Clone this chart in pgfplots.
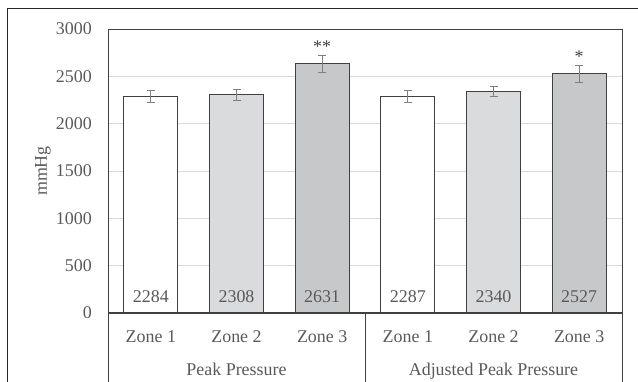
\documentclass[border=0pt]{standalone}
\usepackage{pgfplots}
\pgfplotsset{compat=1.18}
\usepackage{fontspec}
\setmainfont{Liberation Serif}
\definecolor{txt}{HTML}{595959}
\definecolor{edge}{HTML}{404040}
\definecolor{frame}{HTML}{262626}
\definecolor{gridc}{HTML}{D9D9D9}
\definecolor{zoneA}{HTML}{FFFFFF}
\definecolor{zoneB}{HTML}{DADBDD}
\definecolor{zoneC}{HTML}{C7C8CA}
\definecolor{errc}{HTML}{7F7F7F}
\newcommand{\cfont}{\fontsize{18}{20}\selectfont}
\begin{document}
\begin{tikzpicture}[x=1bp,y=1bp]
\begin{axis}[
  at={(108bp,68bp)}, anchor=south west,
  scale only axis, width=514bp, height=284bp,
  xmin=-0.5, xmax=5.5, ymin=0, ymax=3000,
  xtick={0,...,5},
  xticklabels={Zone 1,Zone 2,Zone 3,Zone 1,Zone 2,Zone 3},
  ytick={0,500,...,3000},
  major tick length=0pt,
  ymajorgrids, grid style={gridc, line width=0.9bp},
  axis line style={edge, line width=0.9bp},
  tick label style={font=\cfont, text=txt},
  xticklabel style={anchor=base, inner sep=0pt, yshift=-29bp},
  yticklabel style={anchor=east, inner sep=0pt, xshift=-16bp},
  /pgf/number format/assume math mode=true,
  /pgf/number format/1000 sep={},
  ylabel={mmHg},
  every axis y label/.style={at={(rel axis cs:0,0.5)}, xshift=-65bp, rotate=90, anchor=center, font=\cfont, text=txt},
  clip=false,
  axis on top=false,
]
% bars
\addplot[ybar, bar width=54bp, bar shift=0pt, fill=zoneA, draw=edge, line width=1bp,
  error bars/.cd, y dir=both, y explicit,
  error bar style={errc, line width=1bp},
  error mark options={rotate=90, mark size=4bp, errc, line width=1bp}]
  coordinates {(0,2284) +- (0,65) (3,2287) +- (0,65)};
\addplot[ybar, bar width=54bp, bar shift=0pt, fill=zoneB, draw=edge, line width=1bp,
  error bars/.cd, y dir=both, y explicit,
  error bar style={errc, line width=1bp},
  error mark options={rotate=90, mark size=4bp, errc, line width=1bp}]
  coordinates {(1,2308) +- (0,58) (4,2340) +- (0,50)};
\addplot[ybar, bar width=54bp, bar shift=0pt, fill=zoneC, draw=edge, line width=1bp,
  error bars/.cd, y dir=both, y explicit,
  error bar style={errc, line width=1bp},
  error mark options={rotate=90, mark size=4bp, errc, line width=1bp}]
  coordinates {(2,2631) +- (0,90) (5,2527) +- (0,88)};
% value labels at bar bottoms
\addplot[draw=none, mark=none, nodes near coords, point meta=explicit symbolic,
  nodes near coords style={anchor=base, yshift=11bp, inner sep=0pt, text=txt, font=\cfont}]
  coordinates {(0,0) [2284] (1,0) [2308] (2,0) [2631] (3,0) [2287] (4,0) [2340] (5,0) [2527]};
% significance markers
\addplot[draw=none, mark=none, nodes near coords, point meta=explicit symbolic,
  nodes near coords style={anchor=base, yshift=3bp, inner sep=0pt, text=edge, font=\cfont}]
  coordinates {(2,2721) [**] (5,2615) [*]};
% thicker category axis line
\draw[edge, line width=1.6bp] (rel axis cs:0,0) -- (rel axis cs:1,0);
% group separators
\draw[edge, line width=0.9bp] (rel axis cs:0,0) -- ++(0bp,-80bp);
\draw[edge, line width=0.9bp] (axis cs:2.5,0) -- ++(0bp,-80bp);
\draw[edge, line width=0.9bp] (rel axis cs:1,0) -- ++(0bp,-80bp);
% group labels
\node[anchor=base, inner sep=0pt, text=txt, font=\cfont] at (axis cs:1,0) [yshift=-62bp] {Peak Pressure};
\node[anchor=base, inner sep=0pt, text=txt, font=\cfont] at (axis cs:4,0) [yshift=-62bp] {Adjusted Peak Pressure};
\end{axis}
\draw[frame, line width=1bp] (7,-10) -- (7,372) -- (660,372);
\pgfresetboundingbox
\path[use as bounding box] (0,0) rectangle (638,381);
\end{tikzpicture}
\end{document}
